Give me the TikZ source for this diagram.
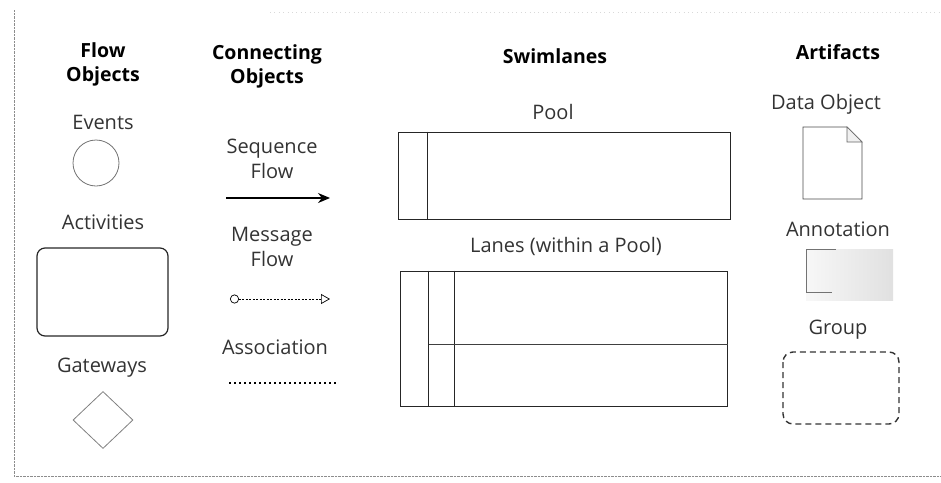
\documentclass[tikz,border=0pt]{standalone}
\usepackage{fontspec}
\setmainfont{Open Sans}
\usetikzlibrary{arrows.meta,shapes.geometric}

\begin{document}
\begin{tikzpicture}[x=1pt,y=-1pt,
	font=\fontsize{20}{26}\selectfont,
	head/.style={font=\fontsize{19.5}{26}\selectfont\bfseries, align=center},
	lbl/.style={align=center, text=black!80},
	lanebox/.style={draw=black!85, line width=1pt, inner sep=0pt}]
	%%%%% START %%%%%
	
	\useasboundingbox (0,0) rectangle (941,482);
	\draw[black!45, densely dotted] (14,10) -- (14,476) -- (941,476);
	\draw[black!15, loosely dotted] (270,12) -- (941,12);
	
	% headings
	\node[head] (flowhead) at (103,64) {Flow\\[-2pt]Objects};
	\node[head] (connhead) at (267,66) {Connecting\\[-2pt]Objects};
	\node[head] (swimhead) at (555,56) {Swimlanes};
	\node[head] (arthead) at (838,52) {Artifacts};
	
	% flow objects
	\node[lbl] (events) at (103,122) {Events};
	\node[draw=black!55, line width=0.8pt, circle, minimum size=46pt, inner sep=0pt] (event) at (96,163) {};
	\node[lbl] (activities) at (103,222) {Activities};
	\node[draw=black!85, line width=1.2pt, rounded corners=8pt, minimum width=131pt, minimum height=88pt] (activity) at (102.5,292) {};
	\node[lbl] (gateways) at (102,368) {Gateways};
	\node[draw=black!50, line width=0.8pt, diamond, minimum width=60pt, minimum height=57pt, inner sep=0pt] (gateway) at (103,420) {};
	
	% connecting objects
	\node[lbl] (seqflow) at (272,159) {Sequence\\[-1pt]Flow};
	\coordinate (sq1) at (226,198);
	\coordinate (sq2) at (330,198);
	\draw[line width=1.1pt, -{Stealth[length=12pt, width=10pt]}] (sq1) -- (sq2);
	
	\node[lbl] (msgflow) at (272,247) {Message\\[-1pt]Flow};
	\coordinate (mf1) at (230,299);
	\coordinate (mf2) at (330,299);
	\draw[dash pattern=on 2pt off 1.5pt, line width=0.7pt, {Circle[open, length=9pt]}-{Triangle[open, length=9pt, width=10pt]}] (mf1) -- (mf2);
	
	\node[lbl] (assoc) at (275,347) {Association};
	\coordinate (as1) at (229,383);
	\coordinate (as2) at (337,383);
	\draw[line width=2.4pt, dash pattern=on 2pt off 3pt] (as1) -- (as2);
	
	% swimlanes
	\node[lbl] (poollbl) at (553,112) {Pool};
	\node[lanebox, minimum width=332pt, minimum height=87pt] (pool) at (564,175.5) {};
	\draw[line width=1pt, black!85] ([xshift=30pt]pool.north west) -- ([xshift=30pt]pool.south west);
	
	\node[lbl] (laneslbl) at (566,246) {Lanes (within a Pool)};
	\node[lanebox, minimum width=327pt, minimum height=135pt] (lanes) at (563.5,338.5) {};
	\draw[line width=1pt, black!85] ([xshift=29pt]lanes.north west) -- ([xshift=29pt]lanes.south west);
	\draw[line width=0.8pt, black!85] ([xshift=55pt]lanes.north west) -- ([xshift=55pt]lanes.south west);
	\draw[line width=0.8pt, black!75] ([xshift=29pt, yshift=-74pt]lanes.north west) -- ([yshift=-74pt]lanes.north east);
	
	% artifacts
	\node[lbl] (datalbl) at (826,104) {Data Object};
	\draw[black!70, line width=0.8pt, fill=white] (803,127) -- (847,127) -- (862,142) -- (862,199) -- (803,199) -- cycle;
	\draw[black!60, line width=0.6pt, fill=black!6] (847,127) -- (847,142) -- (862,142) -- cycle;
	
	\node[lbl] (annolbl) at (838,229) {Annotation};
	\shade[left color=black!3, right color=black!12] (806,249) rectangle (893,300);
	\draw[black!55, line width=0.8pt] (836,249) -- (806,249) -- (806,292) -- (832,292);
	
	\node[lbl] (grouplbl) at (838,330) {Group};
	\draw[black!80, line width=1.4pt, dash pattern=on 6pt off 4pt, rounded corners=10pt] (783,352) rectangle (899,424);
	
	%%%%% END %%%%%
\end{tikzpicture}
\end{document}
